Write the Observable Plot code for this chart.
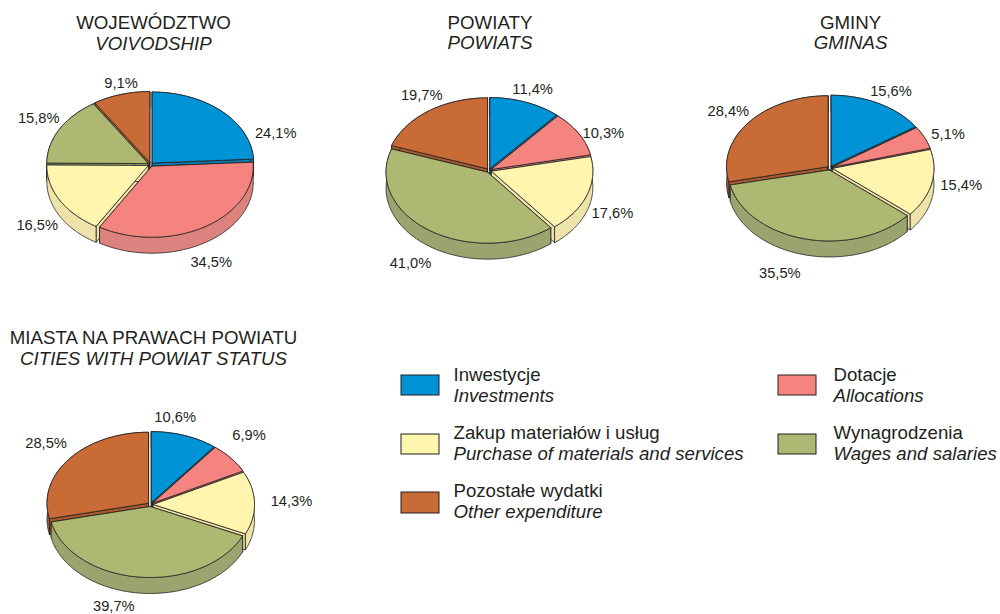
<!DOCTYPE html>
<html><head><meta charset="utf-8">
<script src="https://cdn.jsdelivr.net/npm/d3@7"></script>
<script src="https://cdn.jsdelivr.net/npm/@observablehq/plot@0.6"></script>
<style>html,body{margin:0;padding:0;background:#fff}svg{display:block}</style>
</head><body><div id="chart"></div>
<script>
// Data
const categoriesPl = ["Inwestycje","Dotacje","Zakup materiałów i usług","Wynagrodzenia","Pozostałe wydatki"];
const categoriesEn = ["Investments","Allocations","Purchase of materials and services","Wages and salaries","Other expenditure"];
const titlesPl = ["WOJEWÓDZTWO","POWIATY","GMINY","MIASTA NA PRAWACH POWIATU"];
const titlesEn = ["VOIVODSHIP","POWIATS","GMINAS","CITIES WITH POWIAT STATUS"];
const voivodship = [24.1,34.5,16.5,15.8,9.1];
const powiats = [11.4,10.3,17.6,41.0,19.7];
const gminas = [15.6,5.1,15.4,35.5,28.4];
const cities = [10.6,6.9,14.3,39.7,28.5];
const seriesList = [voivodship,powiats,gminas,cities];

// Styles and layout
const topColors = ["#0093d6","#f58480","#fff5ae","#adb872","#c86b37"];
const sideColors = ["#0a78ac","#dd837f","#eee4aa","#99a46e","#a65a2e"];
const pieCentres = [[150,164],[488.5,170],[829.5,167.5],[150,504]];
const titleX = [153,489.5,850,153];
const titleY = [[23,44],[23,43],[23,43],[338,359]];
const RX = 101.5, RY = 71, DEPTH = 16, EX = 2.5, EY = 2;
const labelNudge = [
  [[54.5,22],[7.5,35.5],[-23.5,25],[-21.5,-11],[-0.5,-11]],
  [[7.5,-13],[25.5,0],[26.5,18],[-19,33],[-7.5,-16]],
  [[12.5,-12],[24.5,-3],[30.5,2],[-25.5,34],[-21.5,-11]],
  [[-9,-18],[19,-23],[38,-2],[-26,29],[-24,-16]]
];
const legendSlots = [[0,0],[1,0],[0,1],[1,1],[0,2]];
const legendX = [[401,439,453],[778,816,833]];
const legendY = [[375,395,375,396],[434,454,433,454],[492,513,491,512]];

// Geometry from values
const rad = p => p/100*2*Math.PI;
const polys = [], labels = [];
let pid = 0;
seriesList.forEach((vals,pi)=>{
  const [cx,cy] = pieCentres[pi];
  const total = d3.sum(vals);
  let cum = 0;
  const slices = vals.map((v,i)=>{
    const a0 = rad(cum/total*100), a1 = rad((cum+v)/total*100); cum += v;
    const mid = (a0+a1)/2;
    return {i,v,a0,a1,mid};
  });
  slices.forEach(s=>{
    const px = cx+(RX+1.5)*Math.sin(s.mid), py = cy-(RY+2)*Math.cos(s.mid);
    labels.push({x:px+labelNudge[pi][s.i][0], y:py+labelNudge[pi][s.i][1], t:s.v.toFixed(1).replace(".",",")+"%"});
  });
  [...slices].sort((a,b)=>Math.cos(b.mid)-Math.cos(a.mid)).forEach(s=>{
    const ox = cx+EX*Math.sin(s.mid), oy = cy-EY*Math.cos(s.mid);
    const n = Math.max(2,Math.ceil((s.a1-s.a0)*60));
    const arc = d3.range(n+1).map(k=>{
      const a = s.a0+(s.a1-s.a0)*k/n;
      return [ox+RX*Math.sin(a), oy-RY*Math.cos(a)];
    });
    const down = pts => pts.map(([x,y])=>[x,y+DEPTH]);
    const add = (pts,key)=>{ const id = pid++; [...pts,pts[0]].forEach(([x,y])=>polys.push({id,x,y,key})); };
    const sideKey = categoriesPl[s.i]+" bok", topKey = categoriesPl[s.i];
    const first = arc[0], last = arc[n];
    add([[ox,oy],first,[first[0],first[1]+DEPTH],[ox,oy+DEPTH]],sideKey);
    add([[ox,oy],last,[last[0],last[1]+DEPTH],[ox,oy+DEPTH]],sideKey);
    add([...arc,...down(arc).reverse()],sideKey);
    add([[ox,oy],...arc],topKey);
  });
});

const titleRows = titlesPl.flatMap((t,i)=>[
  {x:titleX[i],y:titleY[i][0],t,it:false},{x:titleX[i],y:titleY[i][1],t:titlesEn[i],it:true}]);
const legendRows = categoriesPl.map((c,i)=>{
  const [col,row] = legendSlots[i];
  return {c,en:categoriesEn[i],x1:legendX[col][0],x2:legendX[col][1],tx:legendX[col][2],
          y1:legendY[row][0],y2:legendY[row][1],ty1:legendY[row][2],ty2:legendY[row][3]};
});
const ink = "#231f20", font = "Liberation Sans, Arial, sans-serif";

const chart = Plot.plot({
  width:1000,height:614,margin:0,
  x:{domain:[0,1000],axis:null},
  y:{domain:[614,0],axis:null},
  color:{domain:[...categoriesPl,...categoriesPl.map(c=>c+" bok")],range:[...topColors,...sideColors]},
  style:{background:"#fff",fontFamily:font},
  marks:[
    Plot.line(polys,{x:"x",y:"y",z:"id",fill:"key",stroke:ink,strokeWidth:0.8,strokeLinejoin:"round"}),
    Plot.text(labels,{x:"x",y:"y",text:"t",fontSize:14.7,fill:ink}),
    Plot.text(titleRows.filter(d=>!d.it),{x:"x",y:"y",text:"t",fontSize:18.7,fill:ink}),
    Plot.text(titleRows.filter(d=>d.it),{x:"x",y:"y",text:"t",fontSize:18.7,fontStyle:"italic",fill:ink}),
    Plot.rect(legendRows,{x1:"x1",x2:"x2",y1:"y1",y2:"y2",fill:"c",stroke:ink,strokeWidth:1}),
    Plot.text(legendRows,{x:"tx",y:"ty1",text:"c",textAnchor:"start",fontSize:18.65,fill:ink}),
    Plot.text(legendRows,{x:"tx",y:"ty2",text:"en",textAnchor:"start",fontSize:18.65,fontStyle:"italic",fill:ink})
  ]
});
document.getElementById("chart").append(chart);
</script></body></html>
